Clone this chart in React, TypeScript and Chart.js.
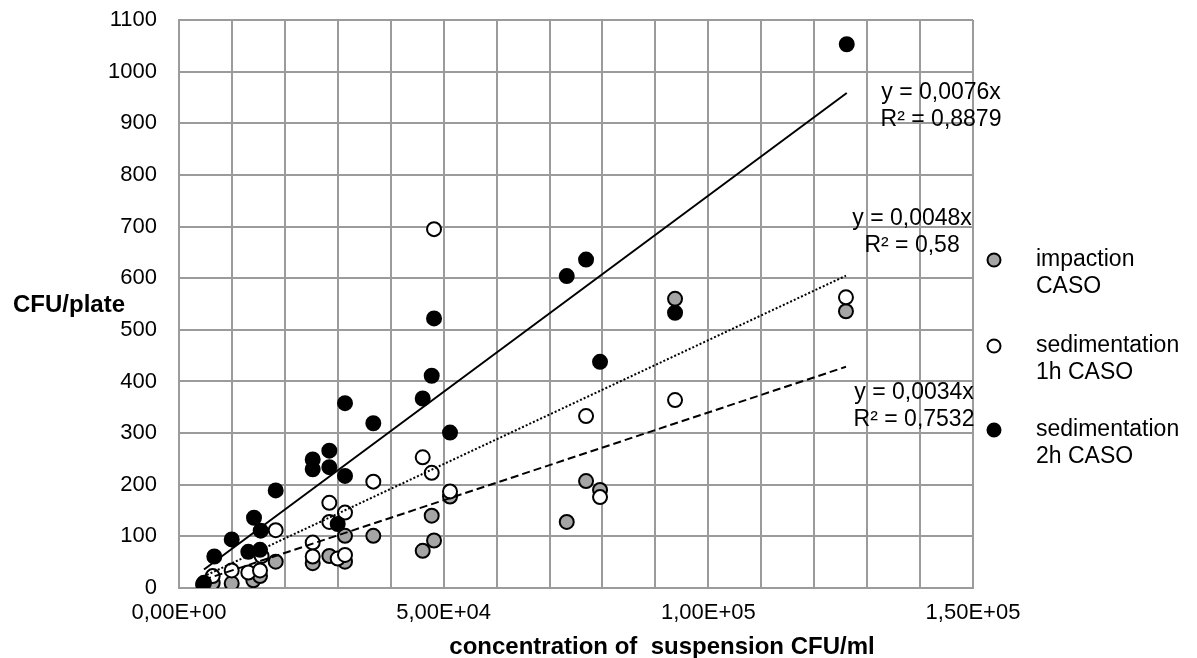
import React, { useEffect, useRef } from "react";
import { Chart, registerables } from "chart.js";

Chart.register(...registerables);

// ---- data ----
const seriesNames = ["impaction CASO", "sedimentation 1h CASO", "sedimentation 2h CASO"];

const impactionX = [4590, 6367, 9956, 14040, 15300, 18270, 25260, 28400, 31360, 31360, 36710, 46040, 48180, 47740, 51200, 73250, 76900, 79540, 93710, 126000];
const impactionY = [6, 10, 9, 15, 23, 51, 48, 62, 51, 101, 101, 72, 92, 140, 177, 128, 207, 190, 560, 536];

const sed1hX = [4590, 6367, 9956, 13093, 15303, 15600, 18270, 25260, 25260, 28400, 28400, 29980, 31360, 31360, 36710, 46040, 47740, 48180, 51200, 76900, 79540, 93710, 126000];
const sed1hY = [8, 23, 34, 30, 34, 62, 112, 88, 61, 165, 128, 57, 146, 64, 206, 253, 223, 695, 187, 333, 176, 364, 563];

const sed2hX = [4723, 6670, 9956, 14170, 15435, 13093, 15303, 18270, 25260, 25260, 28400, 28400, 31360, 29980, 31360, 36710, 46040, 47740, 48180, 51200, 73250, 76900, 79540, 93710, 126150];
const sed2hY = [10, 61, 94, 136, 111, 70, 74, 189, 249, 230, 266, 234, 217, 124, 358, 319, 367, 411, 522, 301, 604, 636, 438, 533, 1053];

// trendline slopes (y = a·x) and labels
const slopes = [0.0034, 0.0048, 0.0076];
const trendLabels = [
  ["y = 0,0034x", "R² = 0,7532"],
  ["y = 0,0048x", "R² = 0,58"],
  ["y = 0,0076x", "R² = 0,8879"],
];
// anchor of each trend label (data units: centre x, first-line y)
const trendLabelX = [138860, 138490, 143960];
const trendLabelY = [379, 716, 960];

const xTickStep = 10000;
const xLabelStep = 50000;
const yStep = 100;
const yMax = 1100;
const xMax = 150000;

const FONT = "'Liberation Sans', Arial, Helvetica, sans-serif";
const GRID = "#9b9b9b";
const GRAY_FILL = "#a5a5a5";

const fills = [GRAY_FILL, "#ffffff", "#000000"];

function toPts(xs: number[], ys: number[]) {
  return xs.map((x, i) => ({ x, y: ys[i] }));
}

function trendPts(xs: number[], a: number) {
  const lo = Math.min(...xs);
  const hi = Math.max(...xs);
  return [
    { x: lo, y: a * lo },
    { x: hi, y: a * hi },
  ];
}

function sciLabel(v: number) {
  if (Math.round(v) % xLabelStep !== 0) return "";
  const [m, e] = v.toExponential(2).split("e");
  const exp = parseInt(e, 10);
  return m.replace(".", ",") + "E" + (exp < 0 ? "-" : "+") + String(Math.abs(exp)).padStart(2, "0");
}

const overlayPlugin = {
  id: "overlay",
  afterDraw(chart: any) {
    const { ctx, chartArea, scales } = chart;
    const xs = scales.x;
    const ys = scales.y;
    ctx.save();
    ctx.fillStyle = "#000";
    // trend labels
    ctx.font = `23px ${FONT}`;
    ctx.textAlign = "center";
    ctx.textBaseline = "middle";
    trendLabels.forEach((lines, i) => {
      const cx = xs.getPixelForValue(trendLabelX[i]);
      const cy = ys.getPixelForValue(trendLabelY[i]);
      lines.forEach((t, j) => ctx.fillText(t, cx, cy + j * 27));
    });

    // legend
    const legendTop = chartArea.top + 240;
    const gaps = [0, 86, 170];
    seriesNames.forEach((name, i) => {
      const my = legendTop + gaps[i];
      const mx = chartArea.right + 21;
      ctx.beginPath();
      ctx.arc(mx, my, 6.5, 0, Math.PI * 2);
      ctx.fillStyle = fills[i];
      ctx.fill();
      ctx.lineWidth = 2;
      ctx.strokeStyle = "#000";
      ctx.stroke();
      ctx.fillStyle = "#000";
      ctx.textAlign = "left";
      const words = name.split(" ");
      const l1 = words[0];
      const l2 = words.slice(1).join(" ");
      ctx.fillText(l1, chartArea.right + 63, my);
      ctx.fillText(l2, chartArea.right + 63, my + 27);
    });

    // axis titles
    ctx.font = `bold 24px ${FONT}`;
    ctx.textAlign = "left";
    ctx.fillText("CFU/plate", 13, (chartArea.top + chartArea.bottom) / 2 + 1);
    ctx.textAlign = "center";
    ctx.fillText("concentration of  suspension CFU/ml", chartArea.left + 483, chartArea.bottom + 59);
    ctx.restore();
  },
};

export default function App() {
  const ref = useRef<HTMLCanvasElement>(null);
  useEffect(() => {
    if (!ref.current) return;
    const pointBase = {
      type: "scatter" as const,
      pointRadius: 7,
      pointHoverRadius: 7,
      pointBorderColor: "#000",
      pointBorderWidth: 2,
      showLine: false,
    };
    const lineBase = {
      type: "line" as const,
      pointRadius: 0,
      borderColor: "#000",
      borderWidth: 2,
      fill: false,
      tension: 0,
    };
    const chart = new Chart(ref.current, {
      type: "scatter",
      data: {
        datasets: [
          { ...lineBase, label: "trend 2h", data: trendPts(sed2hX, slopes[2]), order: 0 },
          { ...lineBase, label: "trend 1h", data: trendPts(sed1hX, slopes[1]), borderDash: [2, 2], order: 1 },
          { ...lineBase, label: "trend impaction", data: trendPts(impactionX, slopes[0]), borderDash: [8, 4], order: 2 },
          { ...pointBase, label: seriesNames[2], data: toPts(sed2hX, sed2hY), backgroundColor: fills[2], pointBackgroundColor: fills[2], order: 3 },
          { ...pointBase, label: seriesNames[1], data: toPts(sed1hX, sed1hY), backgroundColor: fills[1], pointBackgroundColor: fills[1], order: 4 },
          { ...pointBase, label: seriesNames[0], data: toPts(impactionX, impactionY), backgroundColor: fills[0], pointBackgroundColor: fills[0], order: 5 },
        ] as any,
      },
      options: {
        animation: false,
        responsive: false,
        layout: { padding: { top: 20, right: 224, left: 0, bottom: 0 } },
        plugins: { legend: { display: false }, tooltip: { enabled: false } },
        scales: {
          x: {
            type: "linear",
            min: 0,
            max: xMax,
            afterFit: (s: any) => { s.height = 70; },
            ticks: {
              stepSize: xTickStep,
              autoSkip: false,
              maxRotation: 0,
              padding: 12,
              color: "#000",
              font: { family: FONT, size: 22 },
              callback: (v: any) => sciLabel(Number(v)),
            },
            grid: { color: GRID, lineWidth: 2, drawTicks: false },
            border: { color: GRID, width: 2 },
          },
          y: {
            type: "linear",
            min: 0,
            max: yMax,
            afterFit: (s: any) => {
              s.width = 179;
              s.paddingTop = 13;
              s.paddingBottom = 13;
            },
            ticks: {
              stepSize: yStep,
              padding: 22,
              color: "#000",
              font: { family: FONT, size: 22 },
              callback: (v: any) => String(v),
            },
            grid: { color: GRID, lineWidth: 2, drawTicks: false },
            border: { color: GRID, width: 2 },
          },
        },
      },
      plugins: [overlayPlugin],
    });
    return () => chart.destroy();
  }, []);
  return (
    <div style={{ position: "absolute", left: 0, top: 0, width: 1197, height: 658, background: "#fff" }}>
      <canvas ref={ref} width={1197} height={658} style={{ width: 1197, height: 658 }} />
    </div>
  );
}
